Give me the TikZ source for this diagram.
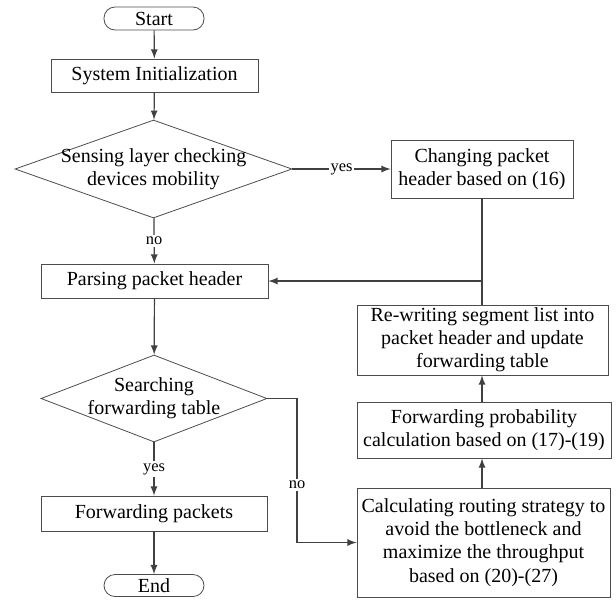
\documentclass[tikz,border=0pt]{standalone}
\usepackage{fontspec}
\setmainfont{Liberation Serif}
\usetikzlibrary{shapes.geometric}
\usetikzlibrary{arrows}
\usetikzlibrary{calc}
\usetikzlibrary{positioning}

\begin{document}
\begin{tikzpicture}[x=0.5pt, y=-0.5pt, font=\fontsize{10}{11.6}\selectfont]

\tikzset{
  term/.style={draw=black!70, rectangle, rounded corners=5.5pt, minimum width=50pt, minimum height=11.5pt, inner sep=0pt},
  pbox/.style={draw=black!70, rectangle, align=center, inner sep=0pt},
  decide/.style={draw=black!70, diamond, inner sep=0pt},
  lbl/.style={fill=white, inner sep=1pt, font=\fontsize{8.2}{9}\selectfont},
  flow/.style={draw=black!75, line width=0.6pt, ->, >=latex},
}

\useasboundingbox (0,0) rectangle (616,601);

% left column
\node [term] (S) at (154, 18.5) {Start};
\node [pbox, minimum width=103.5pt, minimum height=16.5pt] (I) at (154.5, 75.5) {System Initialization};
\node [decide, minimum width=138.5pt, minimum height=49pt,
       label={[align=center]center:Sensing layer checking\\devices mobility}] (D1) at (153.5, 169) {};
\node [pbox, minimum width=113.5pt, minimum height=17pt] (P) at (154.5, 281) {Parsing packet header};
\node [decide, minimum width=113pt, minimum height=43.5pt,
       label={[align=center]center:Searching\\forwarding table}] (D2) at (154, 398.5) {};
\node [pbox, minimum width=113pt, minimum height=17.5pt] (F) at (154, 513.5) {Forwarding packets};
\node [term, minimum height=11pt] (E) at (154, 585.5) {End};

% right column
\node [pbox, minimum width=91pt, minimum height=29pt] (C) at (482, 169) {Changing packet\\header based on (16)};
\node [pbox, minimum width=125.5pt, minimum height=35pt] (RW) at (482.5, 340) {Re-writing segment list into\\packet header and update\\forwarding table};
\node [pbox, minimum width=127pt, minimum height=28pt] (FP) at (484, 430) {Forwarding probability\\calculation based on (17)-(19)};
\node [pbox, minimum width=126.5pt, minimum height=54.5pt] (CR) at (483.5, 542.5) {Calculating routing strategy to\\avoid the bottleneck and\\maximize the throughput\\based on (20)-(27)};

\coordinate (J) at (C.south |- P.east);
\coordinate (K) at (297, 398.5);

\draw [flow] (S) -- (I);
\draw [flow] (I) -- (D1);
\draw [flow] (D1) -- node [lbl] {no} (P);
\draw [flow] (D1.east) -- node [lbl] {yes} (C.west);
\draw [flow] (P) -- (D2);
\draw [flow] (D2) -- node [lbl] {yes} (F);
\draw [flow] (F) -- (E);
\draw [flow] (D2.east) -- (K) |- node [lbl, pos=0.3] {no} (CR.west);
\draw [flow] (CR.north -| C.south) -- (FP.south -| C.south);
\draw [flow] (FP.north -| C.south) -- (RW.south -| C.south);
\draw [draw=black!75, line width=0.6pt] (C.south) -- (RW.north -| C.south);
\draw [flow] (J) -- (P.east);

\end{tikzpicture}
\end{document}
